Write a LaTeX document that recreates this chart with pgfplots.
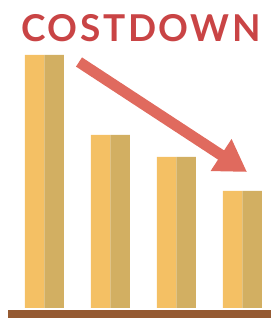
\documentclass[border=0pt]{standalone}
\usepackage{pgfplots}
\pgfplotsset{compat=1.18}
\usepackage{fontspec}
\setmainfont{Lato}
\usetikzlibrary{arrows.meta}
\definecolor{barlight}{HTML}{F4C064}
\definecolor{bardark}{HTML}{D2AF62}
\definecolor{basebrown}{HTML}{955A32}
\definecolor{arrowred}{HTML}{E06A5E}
\definecolor{titlered}{HTML}{C94445}
\begin{document}
\begin{tikzpicture}
\begin{axis}[
  width=271pt, height=318pt, scale only axis,
  xmin=0, xmax=271, ymin=-10, ymax=308,
  axis line style={draw=none}, ticks=none, clip=false,
]
% baseline
\addplot[fill=basebrown, draw=none] coordinates {(8,-2) (271,-2) (271,-10) (8,-10)} -- cycle;
% left halves
\addplot[ybar, bar width=19.5, fill=barlight, draw=none] coordinates {(34.5,253) (100.5,173) (166.5,151) (232.5,117)};
% right halves
\addplot[ybar, bar width=19.5, fill=bardark, draw=none] coordinates {(54,253) (120,173) (186,151) (252,117)};
% arrow
\addplot[arrowred, line width=11pt, -{Triangle[width=36pt,length=31pt]}] coordinates {(79,246) (247,136)};
\node[inner sep=0pt, text=titlered, font={\fontsize{37}{40}\selectfont\bfseries\addfontfeatures{LetterSpace=7}}, anchor=base] at (axis cs:141,266) {COSTDOWN};
\end{axis}
\end{tikzpicture}
\end{document}
